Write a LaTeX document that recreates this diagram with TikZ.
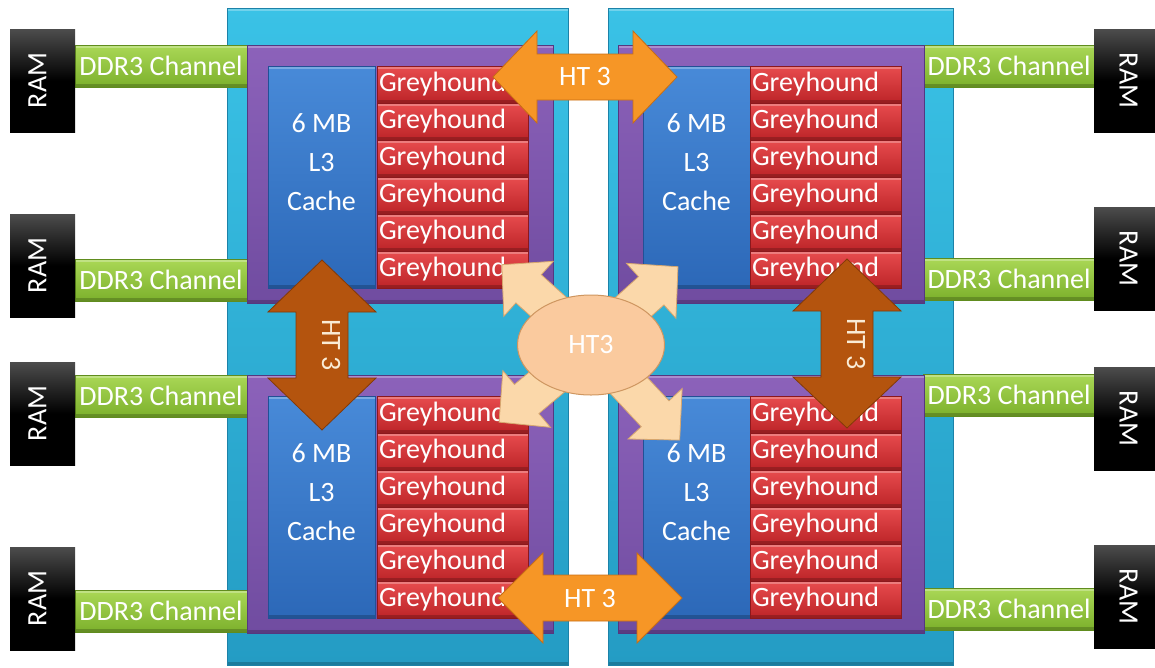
\documentclass[tikz,border=0pt]{standalone}
\usepackage{fontspec}
\setmainfont{Carlito}
\usetikzlibrary{shapes.geometric}

% palette
\definecolor{panelTop}{RGB}{58,194,230}
\definecolor{panelBot}{RGB}{36,156,196}
\definecolor{panelEdge}{RGB}{28,130,168}
\definecolor{dieTop}{RGB}{140,98,186}
\definecolor{dieBot}{RGB}{112,76,160}
\definecolor{dieEdge}{RGB}{84,56,128}
\definecolor{cacheTop}{RGB}{72,138,216}
\definecolor{cacheBot}{RGB}{44,104,184}
\definecolor{cacheEdge}{RGB}{34,80,150}
\definecolor{coreTop}{RGB}{232,76,78}
\definecolor{coreBot}{RGB}{188,36,40}
\definecolor{coreEdge}{RGB}{140,24,28}
\definecolor{ddrTop}{RGB}{170,216,86}
\definecolor{ddrBot}{RGB}{124,176,44}
\definecolor{ddrEdge}{RGB}{96,140,30}
\definecolor{htOrange}{RGB}{246,150,38}
\definecolor{htOrangeEdge}{RGB}{200,110,20}
\definecolor{htBrown}{RGB}{180,84,14}
\definecolor{htBrownEdge}{RGB}{130,58,8}
\definecolor{hubFill}{RGB}{250,202,158}
\definecolor{hubEdge}{RGB}{206,150,96}
\definecolor{spokeFill}{RGB}{251,216,170}
\definecolor{spokeEdge}{RGB}{214,166,110}
\definecolor{brownText}{RGB}{250,236,214}

\tikzset{
  blk/.style={anchor=north west, inner sep=0pt, outer sep=0pt, text=white,
    font=\fontsize{28}{39}\selectfont},
  bevel/.style={path picture={
    \fill[white,opacity=.28] (path picture bounding box.north west)
      rectangle ([yshift=-3pt]path picture bounding box.north east);
    \fill[black,opacity=.20] (path picture bounding box.south west)
      rectangle ([yshift=3pt]path picture bounding box.south east);}},
  panel/.style={blk, bevel, top color=panelTop, bottom color=panelBot,
    draw=panelEdge, line width=.8pt},
  die/.style={blk, bevel, top color=dieTop, bottom color=dieBot,
    draw=dieEdge, line width=.8pt, minimum width=306pt, minimum height=258pt},
  cache/.style={blk, bevel, top color=cacheTop, bottom color=cacheBot,
    draw=cacheEdge, line width=.6pt, minimum width=107pt, minimum height=222pt,
    align=center},
  core/.style={blk, bevel, top color=coreTop, bottom color=coreBot,
    draw=coreEdge, line width=.6pt, minimum width=151pt, minimum height=37pt,
    text width=147pt, align=left},
  ddr/.style={blk, bevel, top color=ddrTop, bottom color=ddrBot,
    draw=ddrEdge, line width=.6pt, minimum width=172pt, minimum height=42pt},
  ram/.style={blk, top color=black!70, bottom color=black,
    middle color=black, minimum width=65pt, minimum height=103pt},
  lbl/.style={font=\fontsize{28}{33}\selectfont, text=white, inner sep=0pt},
  htH/.style={fill=htOrange, draw=htOrangeEdge, line width=.8pt},
  htV/.style={fill=htBrown, draw=htBrownEdge, line width=.8pt},
  spoke/.style={fill=spokeFill, draw=spokeEdge, line width=.8pt},
}

\begin{document}
\begin{tikzpicture}[x=1pt,y=-1pt]
\useasboundingbox (0,0) rectangle (1155,667);

% processor packages
\node[panel, minimum width=341pt, minimum height=657pt] (pkgL) at (227,8) {};
\node[panel, minimum width=345pt, minimum height=657pt] (pkgR) at (608,8) {};

% memory channels and RAM modules
\foreach \y/\n in {45/1,259/2,375/3,590/4}{
  \node[ddr] (ddrL\n) at (75,\y) {DDR3 Channel};
}
\foreach \y/\n in {45/1,258/2,374/3,588/4}{
  \node[ddr] (ddrR\n) at (923,\y) {DDR3 Channel};
}
\foreach \y/\n in {29/1,214/2,362/3,547/4}{
  \node[ram] (ramL\n) at (10,\y) {};
  \node[lbl, rotate=90] at ([xshift=-5pt]ramL\n.center) {RAM};
}
\foreach \y/\n in {29/1,207/2,367/3,545/4}{
  \node[ram, minimum width=61pt] (ramR\n) at (1094,\y) {};
  \node[lbl, rotate=-90] at ([xshift=4pt]ramR\n.center) {RAM};
}

% dies: L3 cache plus six Greyhound cores each
\foreach \dx/\dy/\cx/\kx/\n in {247/45/268/377/TL, 618/45/643/750/TR,
                                 247/375/268/377/BL, 618/375/643/750/BR}{
  \node[die] (die\n) at (\dx,\dy) {};
  \pgfmathsetmacro{\cy}{\dy+21}
  \node[cache] (cache\n) at (\cx,\cy) {};
  \node[lbl, align=center, font=\fontsize{28}{39}\selectfont]
    at ([yshift=15pt]cache\n.center) {6 MB\\L3\\Cache};
  \foreach \k in {0,...,5}{
    \pgfmathsetmacro{\ry}{\cy+37*\k}
    \node[core] (core\n\k) at (\kx,\ry) {Greyhound};
  }
}

% HyperTransport links between packages (horizontal)
\fill[htH] (493,77) -- (537,31) -- (537,54) -- (633,54) -- (633,31)
  -- (677,77) -- (633,123) -- (633,100) -- (537,100) -- (537,123) -- cycle;
\node[lbl] (htTop) at (585,77) {HT 3};
\fill[htH] (498,598) -- (543,553) -- (543,575) -- (637,575) -- (637,553)
  -- (682,598) -- (637,643) -- (637,621) -- (543,621) -- (543,643) -- cycle;
\node[lbl] (htBot) at (590,598) {HT 3};

% HyperTransport links within packages (vertical)
\fill[htV] (322,260) -- (376,312) -- (348,312) -- (348,378) -- (376,378)
  -- (322,430) -- (268,378) -- (296,378) -- (296,312) -- (268,312) -- cycle;
\node[lbl, rotate=-90, text=brownText] (htLeft) at (331,345) {HT 3};
\fill[htV] (847,259) -- (901,311) -- (873,311) -- (873,377) -- (901,377)
  -- (847,428) -- (793,377) -- (821,377) -- (821,311) -- (793,311) -- cycle;
\node[lbl, rotate=-90, text=brownText] (htRight) at (856,344) {HT 3};

% central HT3 hub with four spokes
\coordinate (hubC) at (591,345);
\foreach \a/\len in {138/120, 42/117, 220/120, -47/130}{
  \begin{scope}[shift={(hubC)}, rotate=\a, y=1pt]
    \fill[spoke] (0,-19) -- (\len-36,-19) -- (\len-36,-37) -- (\len,0)
      -- (\len-36,37) -- (\len-36,19) -- (0,19) -- cycle;
  \end{scope}
}
\node[ellipse, fill=hubFill, draw=hubEdge, line width=1pt,
  minimum width=147pt, minimum height=100pt, inner sep=0pt,
  font=\fontsize{28}{33}\selectfont, text=white] (hub) at (hubC) {HT3};

\end{tikzpicture}
\end{document}
